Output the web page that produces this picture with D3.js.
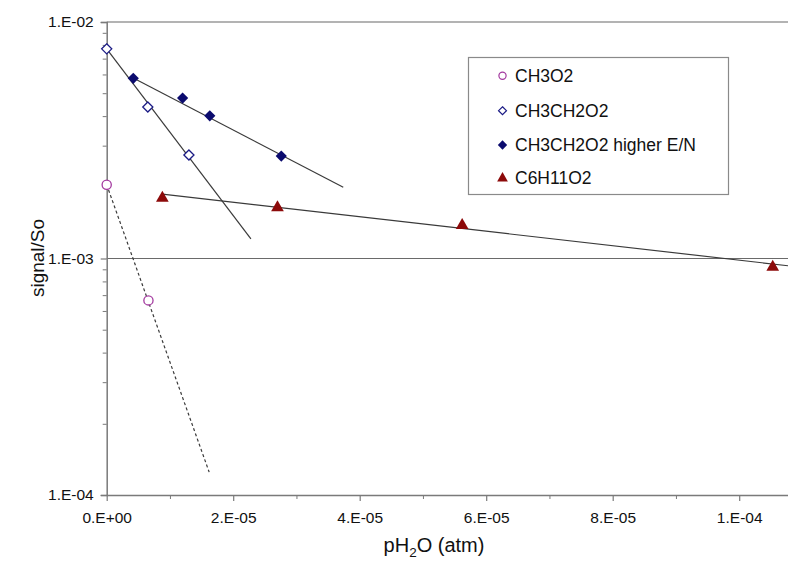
<!DOCTYPE html>
<html><head><meta charset="utf-8">
<script src="https://cdn.jsdelivr.net/npm/d3@7"></script>
<style>
body{margin:0;background:#fff}
svg{display:block}
text{font-family:"Liberation Sans",Arial,Helvetica,sans-serif;fill:#111}
</style>
</head><body>
<svg id="chart" width="788" height="562"></svg>
<script>
// ---- data ----
const xTickValues = [0, 2e-5, 4e-5, 6e-5, 8e-5, 1e-4];
const xTickLabels = ["0.E+00", "2.E-05", "4.E-05", "6.E-05", "8.E-05", "1.E-04"];
const yTickValues = [1e-4, 1e-3, 1e-2];
const yTickLabels = ["1.E-04", "1.E-03", "1.E-02"];
const seriesNames = ["CH3O2", "CH3CH2O2", "CH3CH2O2 higher E/N", "C6H11O2"];

const ch3o2X = [0, 6.6e-6];
const ch3o2Y = [2.05e-3, 6.65e-4];
const ch3ch2o2X = [0, 6.5e-6, 1.3e-5];
const ch3ch2o2Y = [7.7e-3, 4.37e-3, 2.74e-3];
const higherX = [4.2e-6, 1.2e-5, 1.63e-5, 2.76e-5];
const higherY = [5.78e-3, 4.77e-3, 4.01e-3, 2.71e-3];
const c6X = [8.8e-6, 2.7e-5, 5.62e-5, 1.053e-4];
const c6Y = [1.8e-3, 1.64e-3, 1.38e-3, 9.2e-4];

// trend lines (start / end)
const ch3o2TrendX = [0, 1.62e-5];
const ch3o2TrendY = [2.05e-3, 1.25e-4];
const ch3ch2o2TrendX = [0, 2.28e-5];
const ch3ch2o2TrendY = [7.7e-3, 1.21e-3];
const higherTrendX = [4.2e-6, 3.74e-5];
const higherTrendY = [5.8e-3, 2.0e-3];
const c6TrendX = [8.8e-6, 1.08e-4];
const c6TrendY = [1.87e-3, 9.3e-4];

// ---- layout ----
const svg = d3.select("#chart");
const plotLeft = 106.7, plotTop = 22, plotBottom = 495, plotRight = 788;
const x = d3.scaleLinear().domain([0, 1.08e-4]).range([plotLeft, plotLeft + 126.5 * 5.4]);
const y = d3.scaleLog().domain([1e-4, 1e-2]).range([plotBottom, plotTop]);
const axisColor = "#7a7a7a";
const tickFont = 15.5;

// top border
svg.append("line").attr("x1", plotLeft).attr("x2", plotRight).attr("y1", y(1e-2)).attr("y2", y(1e-2))
  .attr("stroke", "#9a9a9a").attr("stroke-width", 1.3);
// gridline at 1e-3
svg.append("line").attr("x1", plotLeft).attr("x2", plotRight).attr("y1", y(1e-3)).attr("y2", y(1e-3))
  .attr("stroke", "#6a6a6a").attr("stroke-width", 1.2);

// y minor ticks
const minor = [];
[1e-4, 1e-3].forEach(d => { for (let k = 2; k <= 9; k++) minor.push(d * k); });
const yMinorAxis = d3.axisLeft(y).tickValues(minor).tickSize(4).tickFormat("");
const gyMinor = svg.append("g").attr("transform", `translate(${plotLeft},0)`).call(yMinorAxis);
gyMinor.select(".domain").remove();
gyMinor.selectAll("line").attr("stroke", axisColor).attr("stroke-width", 1);

// y axis
const yAxis = d3.axisLeft(y).tickValues(yTickValues).tickSize(6).tickPadding(7)
  .tickFormat((d, i) => yTickLabels[i]);
const gy = svg.append("g").attr("transform", `translate(${plotLeft},0)`).call(yAxis);
gy.select(".domain").attr("stroke", axisColor).attr("stroke-width", 1.5);
gy.selectAll("line").attr("stroke", axisColor).attr("stroke-width", 1.2);
gy.selectAll("text").attr("font-size", tickFont).attr("fill", "#111")
  .attr("font-family", "Liberation Sans, Arial, sans-serif");

// x minor ticks
const xMinorAxis = d3.axisBottom(x).tickValues([1e-5, 3e-5, 5e-5, 7e-5, 9e-5]).tickSize(4).tickFormat("");
const gxMinor = svg.append("g").attr("transform", `translate(0,${plotBottom})`).call(xMinorAxis);
gxMinor.select(".domain").remove();
gxMinor.selectAll("line").attr("stroke", axisColor).attr("stroke-width", 1);

// x axis
const xAxis = d3.axisBottom(x).tickValues(xTickValues).tickSize(6).tickPadding(11)
  .tickFormat((d, i) => xTickLabels[i]);
const gx = svg.append("g").attr("transform", `translate(0,${plotBottom})`).call(xAxis);
gx.select(".domain").attr("d", `M${plotLeft},0.5H${plotRight}`).attr("stroke", axisColor).attr("stroke-width", 1.3);
gx.selectAll("line").attr("stroke", axisColor).attr("stroke-width", 1.2);
gx.selectAll("text").attr("font-size", tickFont).attr("fill", "#111")
  .attr("font-family", "Liberation Sans, Arial, sans-serif");

// axis titles
const xt = svg.append("text").attr("x", 434).attr("y", 552).attr("text-anchor", "middle").attr("font-size", 20);
xt.append("tspan").text("pH");
xt.append("tspan").attr("font-size", 13.5).attr("dy", 5).text("2");
xt.append("tspan").attr("dy", -5).text("O (atm)");
svg.append("text").attr("transform", "translate(44,258) rotate(-90)").attr("text-anchor", "middle")
  .attr("font-size", 19).text("signal/So");

// trend lines
const line = d3.line().x(d => x(d[0])).y(d => y(d[1]));
const trendColor = "#3a3a3a";
function trend(xs, ys, dashed) {
  svg.append("path").datum(d3.zip(xs, ys)).attr("d", line).attr("fill", "none")
    .attr("stroke", trendColor).attr("stroke-width", 1.2)
    .attr("stroke-dasharray", dashed ? "3,2.5" : null);
}
trend(ch3o2TrendX, ch3o2TrendY, true);
trend(ch3ch2o2TrendX, ch3ch2o2TrendY, false);
trend(higherTrendX, higherTrendY, false);
trend(c6TrendX, c6TrendY, false);

// markers
const purple = "#a3399f", navy = "#1b1b85", navyFill = "#0b0b6e", darkRed = "#8c0a0a";
const diamond = d3.symbol().type(d3.symbolDiamond2).size(65);
const diamondF = d3.symbol().type(d3.symbolDiamond2).size(80);
const tri = d3.symbol().type(d3.symbolTriangle).size(70);

svg.append("g").selectAll("circle").data(d3.zip(ch3o2X, ch3o2Y)).join("circle")
  .attr("cx", d => x(d[0])).attr("cy", d => y(d[1])).attr("r", 4.6)
  .attr("fill", "white").attr("stroke", purple).attr("stroke-width", 1.3);
svg.append("g").selectAll("path").data(d3.zip(ch3ch2o2X, ch3ch2o2Y)).join("path")
  .attr("d", diamond).attr("transform", d => `translate(${x(d[0])},${y(d[1])})`)
  .attr("fill", "white").attr("stroke", navy).attr("stroke-width", 1.3);
svg.append("g").selectAll("path").data(d3.zip(higherX, higherY)).join("path")
  .attr("d", diamondF).attr("transform", d => `translate(${x(d[0])},${y(d[1])})`)
  .attr("fill", navyFill);
svg.append("g").selectAll("path").data(d3.zip(c6X, c6Y)).join("path")
  .attr("d", tri).attr("transform", d => `translate(${x(d[0])},${y(d[1])})`)
  .attr("fill", darkRed);

// legend
const lg = svg.append("g");
lg.append("rect").attr("x", 468.5).attr("y", 57.5).attr("width", 260).attr("height", 137)
  .attr("fill", "white").attr("stroke", "#8a8a8a").attr("stroke-width", 1.2);
const rowY = [75.7, 110.7, 145, 178.3];
const lm = 502.5, lt = 515;
lg.append("circle").attr("cx", lm).attr("cy", rowY[0]).attr("r", 3.6)
  .attr("fill", "white").attr("stroke", purple).attr("stroke-width", 1.2);
lg.append("path").attr("d", d3.symbol().type(d3.symbolDiamond2).size(40)).attr("transform", `translate(${lm},${rowY[1]})`)
  .attr("fill", "white").attr("stroke", navy).attr("stroke-width", 1.2);
lg.append("path").attr("d", d3.symbol().type(d3.symbolDiamond2).size(55)).attr("transform", `translate(${lm},${rowY[2]})`)
  .attr("fill", navyFill);
lg.append("path").attr("d", d3.symbol().type(d3.symbolTriangle).size(50)).attr("transform", `translate(${lm},${rowY[3]})`)
  .attr("fill", darkRed);
lg.selectAll("text.lab").data(seriesNames).join("text").attr("class", "lab")
  .attr("x", lt).attr("y", (d, i) => rowY[i]).attr("dy", "0.35em").attr("font-size", 17.5).text(d => d);
</script>
</body></html>
